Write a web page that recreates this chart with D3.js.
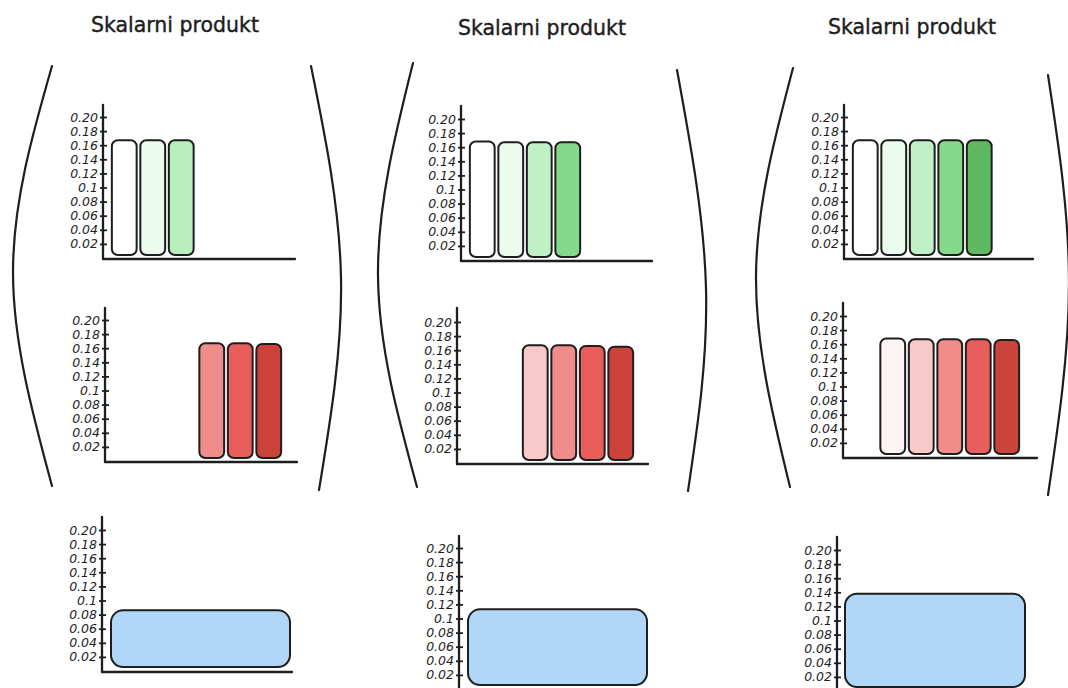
<!DOCTYPE html>
<html><head><meta charset="utf-8">
<script src="https://cdn.jsdelivr.net/npm/d3@7"></script>
<style>html,body{margin:0;padding:0;background:#fff;}svg{display:block;}</style>
</head><body>
<svg id="c" width="1068" height="688"></svg>
<script>
// ---------- data ----------
const titles = ["Skalarni produkt", "Skalarni produkt", "Skalarni produkt"];
const slots = ["s0", "s1", "s2", "s3", "s4", "s5"];
const tickValues = [0.02, 0.04, 0.06, 0.08, 0.10, 0.12, 0.14, 0.16, 0.18, 0.20];
const tickLabels = ["0.02", "0.04", "0.06", "0.08", "0.1", "0.12", "0.14", "0.16", "0.18", "0.20"];

const greenSlots = [["s0","s1","s2"], ["s0","s1","s2","s3"], ["s0","s1","s2","s3","s4"]];
const greenValues = [[0.167, 0.167, 0.167], [0.168, 0.167, 0.167, 0.167], [0.167, 0.167, 0.167, 0.167, 0.167]];
const redSlots = [["s3","s4","s5"], ["s2","s3","s4","s5"], ["s1","s2","s3","s4","s5"]];
const redValues = [[0.167, 0.167, 0.166], [0.167, 0.167, 0.166, 0.165], [0.168, 0.167, 0.167, 0.167, 0.166]];
const blueValues = [0.086, 0.113, 0.138];

// ---------- styles ----------
const greenColors = [["#ffffff","#ebfbee","#b9efbf"],
                     ["#ffffff","#ebfbee","#c0f0c5","#86d98a"],
                     ["#ffffff","#ebfbee","#c0f0c5","#86d98a","#5fb960"]];
const redColors = [["#f08c8a","#e85e5b","#cc433c"],
                   ["#f8c9c9","#f08c8a","#e85e5b","#cc433c"],
                   ["#fdf4f3","#f8c9c9","#f08c8a","#e85e5b","#cc433c"]];
const blueColor = "#b0d6f8";
const ink = "#1e1e1e";

// ---------- layout ----------
const panels = [
  { titleX: 175, titleY: 32,
    green: {ax:103, zy:258, top:105, end:295},
    red:   {ax:105, zy:461, top:308, end:297},
    blue:  {ax:102, zy:671, top:517, end:292, b0:111, b1:290},
    parenL: [[52,66],[13,272],[52,486]],
    parenR: [[311,66],[341,278],[319,490]] },
  { titleX: 542, titleY: 35,
    green: {ax:461, zy:260, top:106, end:652},
    red:   {ax:457, zy:463, top:308, end:648},
    blue:  {ax:459, zy:689, top:536, end:660, b0:468, b1:647},
    parenL: [[413,63],[378,276],[417,487]],
    parenR: [[677,70],[706,288],[688,491]] },
  { titleX: 912, titleY: 34,
    green: {ax:844, zy:258, top:105, end:1033},
    red:   {ax:843, zy:457, top:303, end:1037},
    blue:  {ax:837, zy:691, top:537, end:1040, b0:845, b1:1025},
    parenL: [[793,68],[756,276],[790,487]],
    parenR: [[1048,75],[1069,283],[1048,495]] }
];
const pxPerUnit = 705;
const step = 28.5;

const svg = d3.select("#c");

function drawAxes(g, L, y) {
  const axis = d3.axisLeft(y).tickValues(tickValues)
      .tickFormat((d, i) => tickLabels[i]).tickSize(0).tickPadding(5);
  const ag = g.append("g").attr("transform", `translate(${L.ax},0)`).call(axis);
  ag.select(".domain").remove();
  ag.selectAll(".tick line").attr("x1", -3).attr("x2", 4).attr("stroke", ink).attr("stroke-width", 1.8);
  ag.selectAll(".tick text").attr("fill", ink).attr("font-family", "DejaVu Sans, sans-serif")
    .attr("font-size", 12.5).attr("font-style", "italic");
  g.append("line").attr("x1", L.ax).attr("x2", L.ax).attr("y1", L.top).attr("y2", L.zy + 1)
    .attr("stroke", ink).attr("stroke-width", 2.3).attr("stroke-linecap", "round");
  g.append("line").attr("x1", L.ax).attr("x2", L.end).attr("y1", L.zy + 1).attr("y2", L.zy + 1)
    .attr("stroke", ink).attr("stroke-width", 2.3).attr("stroke-linecap", "round");
}

function barChart(L, cats, vals, colors) {
  const g = svg.append("g");
  const y = d3.scaleLinear().domain([0, 0.2]).range([L.zy, L.zy - 0.2 * pxPerUnit]);
  const x = d3.scaleBand().domain(slots).range([L.ax + 7, L.ax + 7 + step * slots.length])
      .paddingInner(0.13).paddingOuter(0.065);
  drawAxes(g, L, y);
  const data = cats.map((c, i) => ({c, v: vals[i], col: colors[i]}));
  g.selectAll("rect.bar").data(data).join("rect").attr("class", "bar")
    .attr("x", d => x(d.c)).attr("width", x.bandwidth())
    .attr("y", d => y(d.v)).attr("height", d => y(0) - 3 - y(d.v))
    .attr("rx", 6).attr("ry", 6)
    .attr("fill", d => d.col).attr("stroke", ink).attr("stroke-width", 2);
}

function blueChart(L, v) {
  const g = svg.append("g");
  const y = d3.scaleLinear().domain([0, 0.2]).range([L.zy, L.zy - 0.2 * pxPerUnit]);
  const x = d3.scaleBand().domain(["sum"]).range([L.b0, L.b1]);
  drawAxes(g, L, y);
  g.selectAll("rect.bar").data([v]).join("rect").attr("class", "bar")
    .attr("x", x("sum")).attr("width", x.bandwidth())
    .attr("y", d => y(d)).attr("height", d => y(0) - 4 - y(d))
    .attr("rx", 12).attr("ry", 12)
    .attr("fill", blueColor).attr("stroke", ink).attr("stroke-width", 2);
}

const parenLine = d3.line().curve(d3.curveNatural);

panels.forEach((P, i) => {
  svg.append("text").attr("x", P.titleX).attr("y", P.titleY).attr("text-anchor", "middle")
    .attr("font-family", "DejaVu Sans, sans-serif").attr("font-size", 20.5).attr("fill", ink)
    .attr("stroke", ink).attr("stroke-width", 0.4)
    .text(titles[i]);
  svg.append("path").attr("d", parenLine(P.parenL)).attr("fill", "none")
    .attr("stroke", ink).attr("stroke-width", 2.2).attr("stroke-linecap", "round");
  svg.append("path").attr("d", parenLine(P.parenR)).attr("fill", "none")
    .attr("stroke", ink).attr("stroke-width", 2.2).attr("stroke-linecap", "round");
  barChart(P.green, greenSlots[i], greenValues[i], greenColors[i]);
  barChart(P.red, redSlots[i], redValues[i], redColors[i]);
  blueChart(P.blue, blueValues[i]);
});
</script>
</body></html>
